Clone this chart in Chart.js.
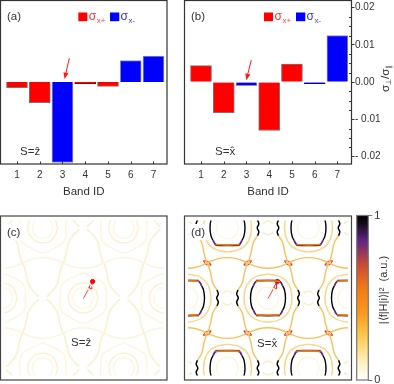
<!DOCTYPE html>
<html><head><meta charset="utf-8">
<style>html,body{margin:0;padding:0;background:#fff;width:394px;height:384px;overflow:hidden}
canvas{position:absolute;left:0;top:0}</style>
<script src="https://cdn.jsdelivr.net/npm/chart.js@4"></script></head>
<body>
<canvas id="a" width="394" height="384"></canvas>
<canvas id="b" width="394" height="384"></canvas>
<canvas id="c" width="394" height="384"></canvas>
<canvas id="d" width="394" height="384"></canvas>
<canvas id="e" width="394" height="384"></canvas>
<script>
const bandIDs=[1,2,3,4,5,6,7];
const plusA=[-0.0015,-0.0055,null,-0.0004,-0.0012,null,null];
const minusA=[null,null,-0.0216,null,null,0.0058,0.007];
const plusB=[0.0044,-0.0082,null,-0.013,0.0048,null,null];
const minusB=[null,null,-0.001,null,null,-0.0004,0.0125];
const minorTickValues=[-0.0175,-0.015,-0.0125,-0.0075,-0.005,-0.0025,0.0025,0.005,0.0075,0.0125,0.015,0.0175];
const colorbarRange=[[0,1]];
const colorStops=[[0,'#ffffff'],[0.1,'#fff3c8'],[0.2,'#fedc7c'],[0.3,'#fdbf3f'],[0.4,'#fc9a1e'],[0.55,'#f57b13'],[0.7,'#cc4a34'],[0.85,'#5f2384'],[0.95,'#150a1c'],[1,'#000000']];
const arrowA=[[3.30,0.0064],[3.09,0.0008]];
const arrowB=[[3.21,0.0059],[2.99,0.0005]];
// k-space paths, one cell, relative to the lattice or K/M point
const ringSmall=[[10.5,0],[7.4,7.4],[0,10.5],[-7.4,7.4],[-10.5,0],[-7.4,-7.4],[0,-10.5],[7.4,-7.4],[10.5,0]];
const ringMid=[[15,0],[10.6,10.6],[0,15],[-10.6,10.6],[-15,0],[-10.6,-10.6],[0,-15],[10.6,-10.6],[15,0]];
const hexRing=[[0,25],[12,20],[21.5,13],[23,0],[21.5,-13],[12,-20],[0,-25],[-12,-20],[-21.5,-13],[-23,0],[-21.5,13],[-12,20],[0,25]];
const triBottom=[[-20,-12],[-9,-16],[0,-17],[9,-16],[20,-12]];
const triLeftC=[[-20,-12],[-17,-2],[-14.7,8.5],[-10,16],[-4,22]];
const triRightC=[[20,-12],[17,-2],[14.7,8.5],[10,16],[4,22]];
const triLeftD=[[-20,-12],[-17,-2],[-14.7,8.5],[-10.5,15.4]];
const triRightD=[[20,-12],[17,-2],[14.7,8.5],[10.5,15.4]];
const ringFaintD=[[11,0],[7.8,7.8],[0,11],[-7.8,7.8],[-11,0],[-7.8,-7.8],[0,-11],[7.8,-7.8],[11,0]];
const ringD24=[[0,24],[13,21],[21,13],[24,0],[21,-13],[13,-21],[0,-24],[-13,-21],[-21,-13],[-24,0],[-21,13],[-13,21],[0,24]];
const flatTop=[[-12,17.5],[0,17.7],[12,17.5]];
const flatBottom=[[-12,-17.5],[0,-17.7],[12,-17.5]];
const cornerUR=[[10,17.6],[12.5,16],[14.5,12.5]],cornerUL=[[-10,17.6],[-12.5,16],[-14.5,12.5]],cornerLR=[[10,-17.6],[12.5,-16],[14.5,-12.5]],cornerLL=[[-10,-17.6],[-12.5,-16],[-14.5,-12.5]];
const sideRight=[[14.5,12.5],[16.5,8],[17.5,0],[16.5,-8],[14.5,-12.5]];
const sideLeft=[[-14.5,12.5],[-16.5,8],[-17.5,0],[-16.5,-8],[-14.5,-12.5]];
const wavyLeft=[[-10.5,-8],[-9.2,-4],[-10.8,0],[-9.2,4],[-10.5,8]];
const wavyRight=[[10.5,-8],[9.2,-4],[10.8,0],[9.2,4],[10.5,8]];
const chevronUp=[[-5,4.5],[0,7],[5,4.5]];
const chevronDown=[[-5,-4.5],[0,-7],[5,-4.5]];
const lensA1=[[3.9,-2.2],[0.85,1.5],[-3.9,2.2]],lensA2=[[3.9,-2.2],[-0.85,-1.5],[-3.9,2.2]];
const lensB1=[[-3.9,-2.2],[-0.85,1.5],[3.9,2.2]],lensB2=[[-3.9,-2.2],[0.85,-1.5],[3.9,2.2]];
const arrowK=[[0,-0.5],[6.5,11]];
const arrowKHead=[[5,9.5],[8,9.2],[8.6,15.5]];
const arrowKDot=[[9.3,16.5]];

const latticeX=81,latticeY=70.15;
const FONT='"Liberation Sans", Arial, sans-serif',INK='#333333';
const K_UP=[0,46.8],K_DN=[40.5,23.4],M_H=[40.5,0],M_S1=[20.25,35.07],M_S2=[-20.25,35.07];
const flip=p=>p.map(q=>[q[0],-q[1]]);
const CLIP={left:-3.5,right:-3.5,top:-4.5,bottom:-4.5};
function tile(path,off,color,width){
  const out=[];
  for(let j=-2;j<=2;j++)for(let i=-3;i<=3;i++){
    const ox=i*latticeX+j*latticeX/2+off[0],oy=j*latticeY+off[1];
    if(Math.abs(ox)>125||Math.abs(oy)>110)continue;
    out.push({type:'line',data:path.map(q=>({x:q[0]+ox,y:q[1]+oy})),borderColor:color,borderWidth:width,
      pointRadius:0,tension:0.4,fill:false,clip:CLIP});
  }
  return out;
}
function noPad(s){s.paddingTop=0;s.paddingBottom=0;s.paddingLeft=0;s.paddingRight=0;}
function frame(col){return{id:'frame',afterDraw(ch){const a=ch.chartArea,c=ch.ctx;c.save();c.strokeStyle=col||'#333';c.lineWidth=1.2;c.strokeRect(a.left,a.top,a.right-a.left,a.bottom-a.top);c.restore();}};}
function txt(c,s,x,y,f,col,align){c.font=f+' '+FONT;c.fillStyle=col||INK;c.textAlign=align||'left';c.textBaseline='alphabetic';c.fillText(s,x,y);}
function legend(c,x1,x2){
  c.fillStyle='#ff0000';c.fillRect(x1,12.5,9,8.7);
  c.fillStyle='#0000ff';c.fillRect(x2,12.5,9.3,8.7);
  txt(c,'σ',x1+10.5,20,'12px','#ff3333');txt(c,'x+',x1+18.5,23,'8px','#ff4444');
  txt(c,'σ',x2+10.5,20,'12px','#3333ff');txt(c,'x-',x2+18.5,23,'8px','#4444ff');
}
function arrowPx(c,x0,y0,x1,y1){
  const ang=Math.atan2(y1-y0,x1-x0),L=6.5,W=2.6;
  c.save();c.strokeStyle='#ff1a1a';c.fillStyle='#ff1a1a';c.lineWidth=1;c.beginPath();c.moveTo(x0,y0);c.lineTo(x1-Math.cos(ang)*4,y1-Math.sin(ang)*4);c.stroke();
  c.beginPath();c.moveTo(x1,y1);
  c.lineTo(x1-L*Math.cos(ang)+W*Math.sin(ang),y1-L*Math.sin(ang)-W*Math.cos(ang));
  c.lineTo(x1-L*Math.cos(ang)-W*Math.sin(ang),y1-L*Math.sin(ang)+W*Math.cos(ang));
  c.closePath();c.fill();c.restore();
}
const AXH=30,AXW=36;
const thin=ctx=>Math.abs(ctx.raw||0)<0.0006;
function barChart(id,left,right,xmin,xmax,plus,minus,arrow,tag,sLabel,sx,lx1,lx2,rightAxis){
  const deco={id:'deco',afterDraw(ch){
    const c=ch.ctx,X=ch.scales.x,Y=ch.scales.y;
    c.save();
    c.strokeStyle=INK;c.lineWidth=1;
    bandIDs.forEach(v=>{const p=Math.round(X.getPixelForValue(v))+.5;c.beginPath();c.moveTo(p,Y.bottom);c.lineTo(p,Y.bottom-2.5);c.stroke();});
    txt(c,tag,X.left+6.5,20,'11.5px');
    txt(c,sLabel,sx,155,'11.5px');
    txt(c,'Band ID',(X.left+X.right)/2,195,'11.5px',INK,'center');
    legend(c,lx1,lx2);
    arrowPx(c,X.getPixelForValue(arrow[0][0]),Y.getPixelForValue(arrow[0][1]),X.getPixelForValue(arrow[1][0]),Y.getPixelForValue(arrow[1][1]));
    if(rightAxis){
      c.strokeStyle=INK;c.lineWidth=1;
      minorTickValues.forEach(v=>{const p=Math.round(Y.getPixelForValue(v))+.5;c.beginPath();c.moveTo(X.right,p);c.lineTo(X.right-2.5,p);c.stroke();});
      c.translate(389,80);c.rotate(-Math.PI/2);
      let x=-12;const part=(s,f,dy)=>{txt(c,s,x,dy,f);x+=c.measureText(s).width;};
      part('σ','11.5px',0);part('⊥','7px',2);part('/','11.5px',0);part('σ','11.5px',0);part('∥','7px',2);
    }
    c.restore();
  }};
  return new Chart(document.getElementById(id),{type:'bar',
    data:{labels:bandIDs,datasets:[
      {label:'σx+',data:plus,backgroundColor:'#ff0000',borderColor:c=>thin(c)?'#8b0000':'rgba(95,60,60,.75)',borderWidth:1,barThickness:21,grouped:false},
      {label:'σx-',data:minus,backgroundColor:'#0000ff',borderColor:c=>thin(c)?'#00008b':'rgba(125,125,150,.85)',borderWidth:1,barThickness:21,grouped:false}]},
    plugins:[deco,frame()],
    options:{responsive:false,animation:false,devicePixelRatio:1,
      layout:{autoPadding:false,padding:{left,top:0.5,right:394-right-(rightAxis?AXW:0),bottom:384-164-AXH}},
      plugins:{legend:{display:false},tooltip:{enabled:false}},
      scales:{
        x:{type:'linear',offset:false,min:xmin,max:xmax,afterFit:s=>{s.height=AXH;noPad(s);},border:{display:false},
          grid:{offset:false,drawOnChartArea:false,drawTicks:false},
          ticks:{stepSize:1,includeBounds:false,padding:5,autoSkip:false,maxRotation:0,color:INK,font:{family:FONT,size:10}}},
        y:{display:rightAxis,position:'right',min:-0.022,max:0.0219,afterFit:s=>{s.width=rightAxis?AXW:0;noPad(s);},border:{display:false},
          grid:{drawOnChartArea:false,tickLength:3,tickColor:INK},
          ticks:{stepSize:0.01,includeBounds:false,padding:0.5,color:INK,font:{family:FONT,size:10},
            callback:v=>Math.abs(v)<1e-9?'0.00':(v<0?'- ':'')+Math.abs(v).toFixed(2)}}
      }}});
}
barChart('a',0.5,167,0.275,7.594,plusA,minusA,arrowA,'(a)','S=ẑ',20,78.3,110,false);
barChart('b',184.5,351.5,0.274,7.62,plusB,minusB,arrowB,'(b)','S=x̂',215,264,296,true);

function kChart(id,left,right,xr,datasets,tag,sLabel,sx,sy){
  const deco={id:'deco',afterDatasetsDraw(ch){
    const c=ch.ctx,X=ch.scales.x;
    c.save();
    c.fillStyle='#fff';c.fillRect(X.left+5,224,19,16);
    txt(c,tag,X.left+6.5,236,'11.5px');
    txt(c,sLabel,sx,sy,'11.5px');
    c.restore();
  }};
  return new Chart(document.getElementById(id),{type:'scatter',data:{datasets},plugins:[deco,frame('#444')],
    options:{responsive:false,animation:false,devicePixelRatio:1,
      layout:{autoPadding:false,padding:{left,top:216,right:394-right,bottom:4}},
      plugins:{legend:{display:false},tooltip:{enabled:false}},
      scales:{x:{type:'linear',display:false,min:xr[0],max:xr[1]},y:{type:'linear',display:false,min:-82,max:82}}}});
}
function arrowDatasets(){
  return [
   {type:'line',data:arrowK.map(q=>({x:q[0],y:q[1]})),borderColor:'#ff3030',borderWidth:0.9,pointRadius:0,fill:false},
   {type:'line',data:arrowKHead.map(q=>({x:q[0],y:q[1]})).concat([{x:arrowKHead[0][0],y:arrowKHead[0][1]}]),borderColor:'#ff1010',backgroundColor:'#ff1010',borderWidth:1,pointRadius:0,fill:true,tension:0},
   {type:'scatter',data:arrowKDot.map(q=>({x:q[0],y:q[1]})),backgroundColor:'#ff0000',borderColor:'#ff0000',pointRadius:2.1}
  ];
}
const dsC=[].concat(
  tile(ringSmall,[0,0],'#fff6e2',1.3),
  tile(ringMid,[0,0],'#ffefd0',1.4),
  tile(hexRing,[0,0],'#fff4de',1.4),
  tile(triBottom,K_UP,'#fff3da',1.4),
  tile(flip(triBottom),K_DN,'#fff3da',1.4),
  tile(triLeftC,K_UP,'#feeecb',1.5),
  tile(triRightC,K_UP,'#feeecb',1.5),
  tile(flip(triLeftC),K_DN,'#feeecb',1.5),
  tile(flip(triRightC),K_DN,'#feeecb',1.5),
  arrowDatasets());
kChart('c',0.5,167,[-82.8,83.7],dsC,'(c)','S=ẑ',71,346);

const orange='#fcc05a',deep='#f27a12',yellow='#fdd488';
const dsD=[].concat(
  tile(ringFaintD,[0,0],'#fff6e0',1.3),
  tile(ringD24,[0,0],yellow,1.4),
  tile(chevronUp,M_H,'#fee8b8',1.2),
  tile(chevronDown,M_H,'#fee8b8',1.2),
  tile(triBottom,K_UP,orange,1.4),
  tile(flip(triBottom),K_DN,orange,1.4),
  tile(triLeftD,K_UP,orange,1.4),
  tile(triRightD,K_UP,orange,1.4),
  tile(flip(triLeftD),K_DN,orange,1.4),
  tile(flip(triRightD),K_DN,orange,1.4),
  tile(lensA1,M_S1,'#d9472c',1.1),tile(lensA2,M_S1,'#d9472c',1.1),
  tile(lensB1,M_S2,'#d9472c',1.1),tile(lensB2,M_S2,'#d9472c',1.1),
  tile(flatTop,[0,-0.7],deep,1.6),tile(flatBottom,[0,0.7],deep,1.6),
  tile(flatTop,[0,0.2],'#2a1030',0.9),tile(flatBottom,[0,-0.2],'#120814',1.1),
  tile(cornerUR,[0,0],'#5f2384',1.8),tile(cornerUL,[0,0],'#5f2384',1.8),
  tile(cornerLR,[0,0],'#5f2384',1.8),tile(cornerLL,[0,0],'#5f2384',1.8),
  tile(sideRight,[0,0],'#000000',1.4),tile(sideLeft,[0,0],'#000000',1.4),
  tile(wavyLeft,M_H,'#000000',1.5),tile(wavyRight,M_H,'#000000',1.5),
  arrowDatasets());
kChart('d',184.5,351.5,[-83.5,83.5],dsD,'(d)','S=x̂',257,347);

const barDeco={id:'deco',afterDraw(ch){
  const c=ch.ctx;c.save();c.translate(387,290);c.rotate(-Math.PI/2);
  txt(c,'|⟨f|H|i⟩|²  (a.u.)',0,0,'11px',INK,'center');c.restore();
}};
new Chart(document.getElementById('e'),{type:'bar',
  data:{labels:[''],datasets:[{data:colorbarRange,barPercentage:1,categoryPercentage:1,borderWidth:0,
    backgroundColor(ctx){const a=ctx.chart.chartArea;if(!a)return '#000';
      const g=ctx.chart.ctx.createLinearGradient(0,a.bottom,0,a.top);colorStops.forEach(s=>g.addColorStop(s[0],s[1]));return g;}}]},
  plugins:[barDeco,frame('#777')],
  options:{responsive:false,animation:false,devicePixelRatio:1,
    layout:{autoPadding:false,padding:{left:356.7,top:215.5,right:394-368.3-AXW+10,bottom:4}},
    plugins:{legend:{display:false},tooltip:{enabled:false}},
    scales:{x:{display:false},
      y:{position:'right',min:0,max:1,afterFit:s=>{s.width=AXW-10;noPad(s);},border:{display:false},
        grid:{drawOnChartArea:false,tickLength:4,tickColor:'#777'},
        ticks:{stepSize:1,padding:2,color:INK,font:{family:FONT,size:11}}}}}});
</script>
</body></html>
